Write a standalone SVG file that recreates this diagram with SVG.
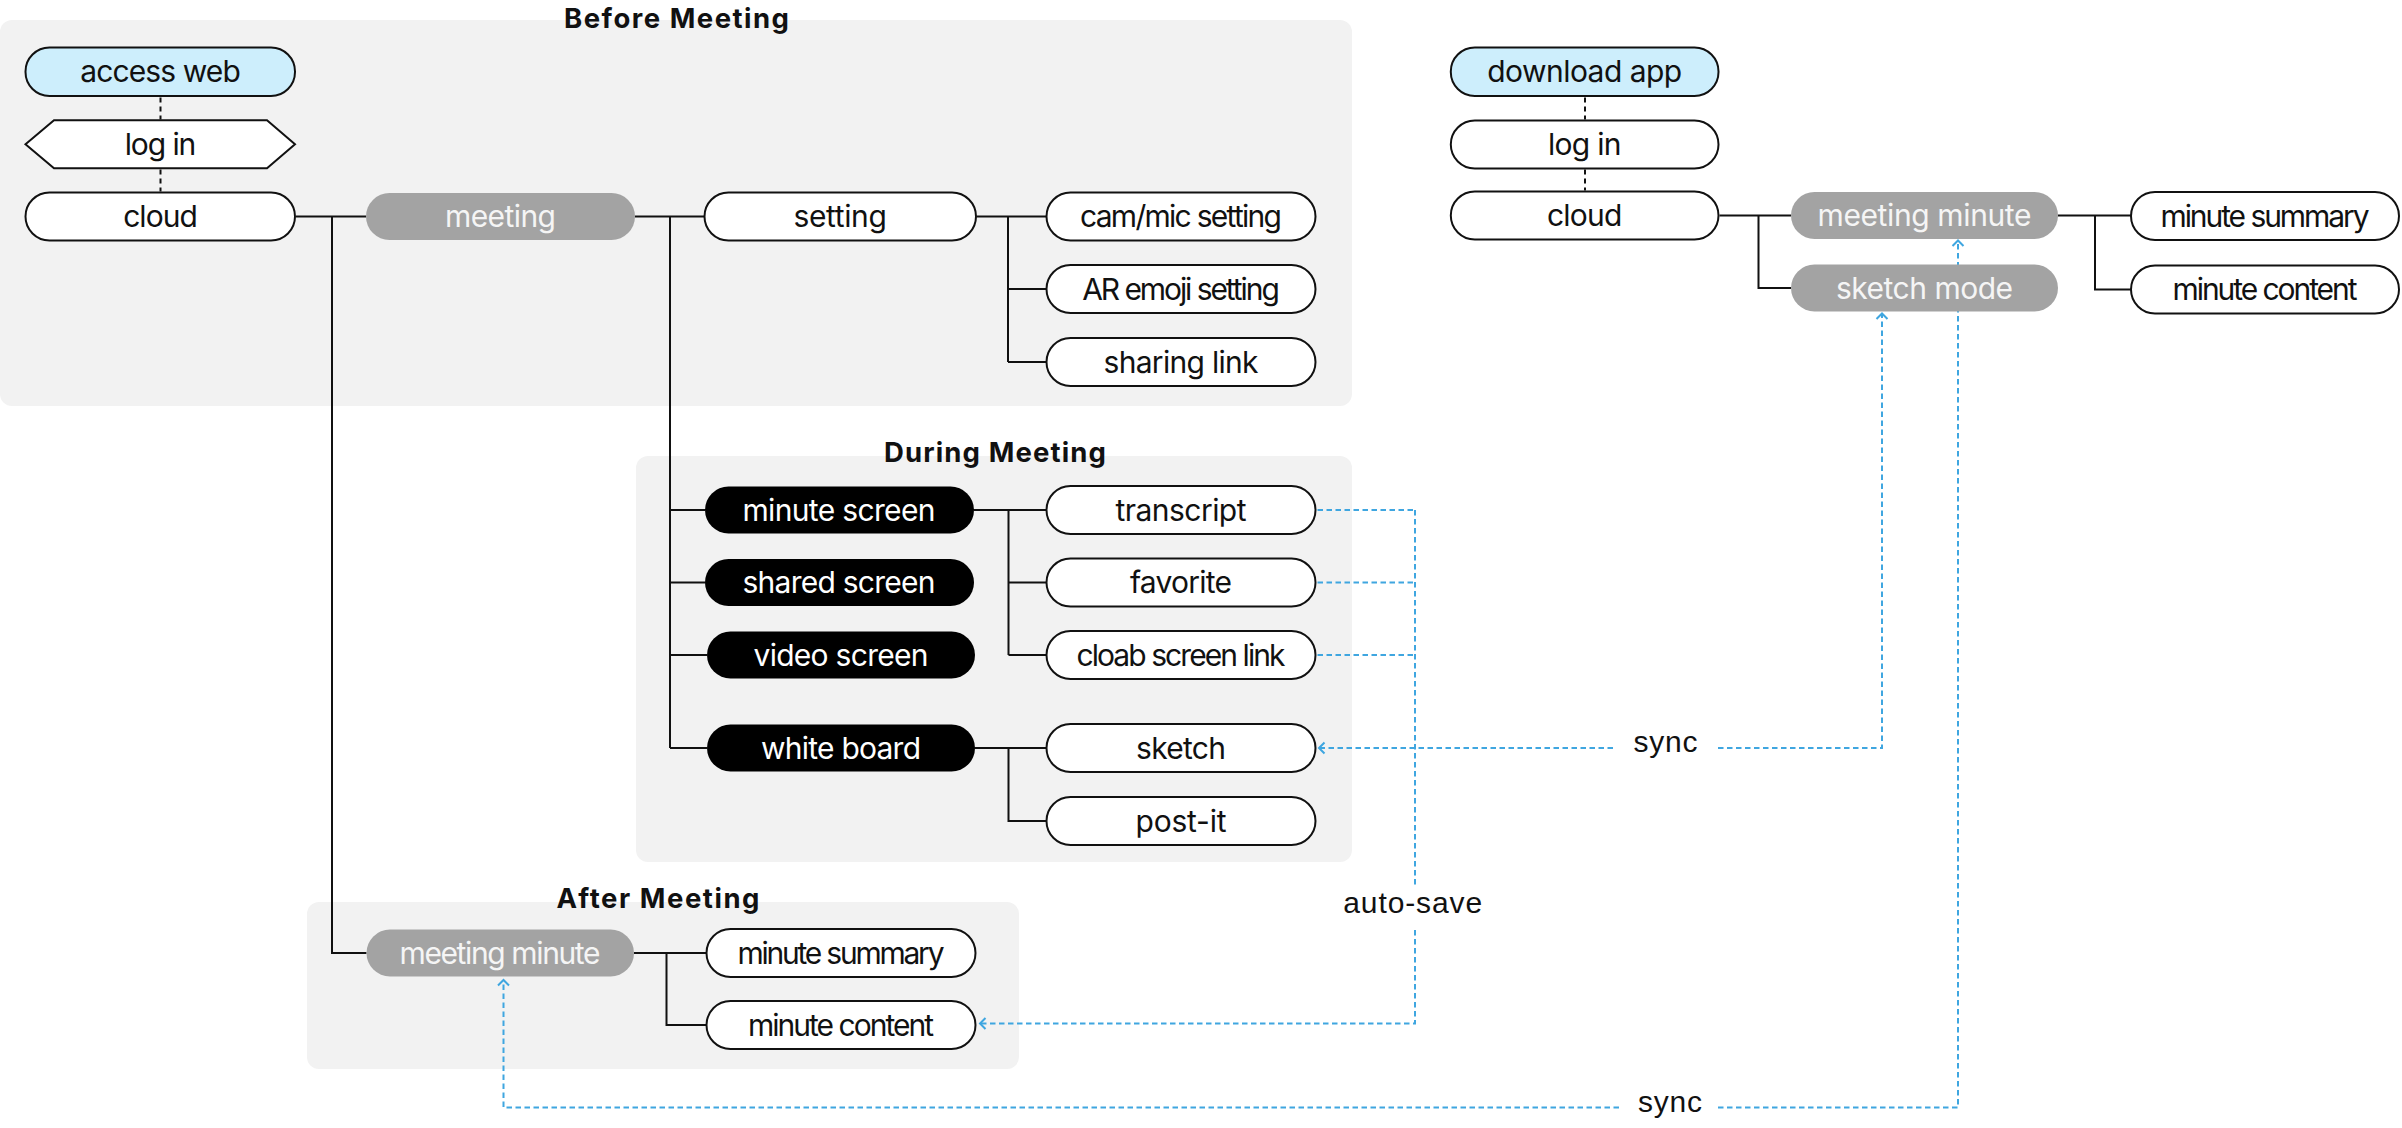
<svg xmlns="http://www.w3.org/2000/svg" width="2402" height="1128" viewBox="0 0 2402 1128">
<style>
.panel{fill:#f2f2f2}
.title{font-family:Inter,"Liberation Sans",sans-serif;font-weight:700;font-size:27.5px;fill:#111;text-anchor:middle}
.nw{fill:#fff;stroke:#111;stroke-width:2}
.nb{fill:#cdeefc;stroke:#111;stroke-width:2}
.ng{fill:#a3a3a3}
.nk{fill:#000}
.t{font-family:Inter,"Liberation Sans",sans-serif;font-size:30px;text-anchor:middle}
.td{fill:#111}
.tl{fill:#f5f5f5}
.tk{fill:#fff}
.ln{fill:none;stroke:#111;stroke-width:2}
.dk{fill:none;stroke:#111;stroke-width:2;stroke-dasharray:5 4}
.bl{fill:none;stroke:#3fa6e0;stroke-width:2;stroke-dasharray:5.5 3.5}
.lab{font-family:"Liberation Sans",Arial,sans-serif;font-size:30px;fill:#111;text-anchor:middle}
</style>
<defs>
<marker id="chev" markerUnits="userSpaceOnUse" viewBox="-8 -7 10 14" refX="0" refY="0" markerWidth="10" markerHeight="14" orient="auto" overflow="visible">
<path d="M-5.5,-5.5 L0,0 L-5.5,5.5" fill="none" stroke="#3fa6e0" stroke-width="2"/>
</marker>
</defs>

<g id="panels">
<rect class="panel" x="0" y="20" width="1352" height="386" rx="12"/>
<rect class="panel" x="636" y="456" width="716" height="406" rx="12"/>
<rect class="panel" x="307" y="902" width="712" height="167" rx="12"/>
<text class="title" x="676.5" y="27.5" textLength="225" lengthAdjust="spacing">Before Meeting</text>
<text class="title" x="995" y="461.5" textLength="222" lengthAdjust="spacing">During Meeting</text>
<text class="title" x="658" y="907.5" textLength="203" lengthAdjust="spacing">After Meeting</text>
</g>

<g id="connectors">
<path class="dk" d="M160.5 97.5V119.5M160.5 169.5V191.5"/>
<path class="dk" d="M1585 97.5V119.5M1585 169.5V190.5"/>
<path class="ln" d="M296 216.5H366M332 216.5V953H366.5"/>
<path class="ln" d="M635 216.5H704.5M670 216.5V748M670 510H705M670 582.5H705M670 655H707M670 748H707"/>
<path class="ln" d="M976.5 216.5H1046.5M1008 216.5V362M1008 289H1046.5M1008 362H1046.5"/>
<path class="ln" d="M974 510H1046.5M1008.5 510V655M1008.5 582.5H1046.5M1008.5 655H1046.5"/>
<path class="ln" d="M974.5 748H1046.5M1008.5 748V821H1046.5"/>
<path class="ln" d="M634 953H706.5M666.5 953V1025H706.5"/>
<path class="ln" d="M1719.5 215.5H1791M1758.5 215.5V288H1791"/>
<path class="ln" d="M2058 215.5H2131M2095 215.5V289.5H2131"/>
<path class="bl" d="M1317.5 510H1415M1317.5 582.5H1415M1317.5 655H1415M1415 510V885"/>
<path class="bl" d="M1415 930V1023.5H980" marker-end="url(#chev)"/>
<path class="bl" d="M1718 748H1882V313.5" marker-end="url(#chev)"/>
<path class="bl" d="M1613 748H1319" marker-end="url(#chev)"/>
<path class="bl" d="M1718 1107.5H1958V240.5" marker-end="url(#chev)"/>
<path class="bl" d="M1619 1107.5H503.5V980" marker-end="url(#chev)"/>
<text class="lab" x="1665.5" y="752" textLength="64" lengthAdjust="spacing">sync</text>
<text class="lab" x="1670" y="1111.5" textLength="64" lengthAdjust="spacing">sync</text>
<text class="lab" x="1412.7" y="913" textLength="139" lengthAdjust="spacing">auto-save</text>
</g>

<g id="access-web"><rect class="nb" x="25.5" y="47.5" width="269.5" height="48.5" rx="24"/><text class="t td" x="160.5" y="82.2" textLength="160.7" lengthAdjust="spacing">access web</text></g>
<g id="log-in-web"><polygon class="nw" points="25.5,144.3 54,120.3 267,120.3 295,144.3 267,168.3 54,168.3"/><text class="t td" x="160.5" y="154.8" textLength="71.7" lengthAdjust="spacing">log in</text></g>
<g id="cloud-web"><rect class="nw" x="25.5" y="192.5" width="269.5" height="48" rx="24"/><text class="t td" x="160.5" y="227" textLength="74.7" lengthAdjust="spacing">cloud</text></g>
<g id="meeting"><rect class="ng" x="366" y="193" width="269" height="47" rx="23.5"/><text class="t tl" x="500.5" y="227" textLength="111" lengthAdjust="spacing">meeting</text></g>
<g id="setting"><rect class="nw" x="704.5" y="192.5" width="271.5" height="48" rx="24"/><text class="t td" x="840.2" y="227" textLength="93.3" lengthAdjust="spacing">setting</text></g>
<g id="cam-mic-setting"><rect class="nw" x="1046.5" y="192.5" width="269" height="48" rx="24"/><text class="t td" x="1181" y="227" textLength="202" lengthAdjust="spacing">cam/mic setting</text></g>
<g id="ar-emoji-setting"><rect class="nw" x="1046.5" y="265" width="269" height="48" rx="24"/><text class="t td" x="1181" y="299.5" textLength="197.6" lengthAdjust="spacing">AR emoji setting</text></g>
<g id="sharing-link"><rect class="nw" x="1046.5" y="338" width="269" height="48" rx="24"/><text class="t td" x="1181" y="372.5" textLength="155" lengthAdjust="spacing">sharing link</text></g>

<g id="minute-screen"><rect class="nk" x="705" y="486.5" width="269" height="47" rx="23.5"/><text class="t tk" x="839" y="520.5" textLength="193" lengthAdjust="spacing">minute screen</text></g>
<g id="shared-screen"><rect class="nk" x="705" y="559" width="269" height="47" rx="23.5"/><text class="t tk" x="839" y="593" textLength="193" lengthAdjust="spacing">shared screen</text></g>
<g id="video-screen"><rect class="nk" x="707" y="631.5" width="268" height="47" rx="23.5"/><text class="t tk" x="841" y="665.5" textLength="175" lengthAdjust="spacing">video screen</text></g>
<g id="white-board"><rect class="nk" x="707" y="724.5" width="268" height="47" rx="23.5"/><text class="t tk" x="841" y="758.5" textLength="160" lengthAdjust="spacing">white board</text></g>
<g id="transcript"><rect class="nw" x="1046.5" y="486" width="269" height="48" rx="24"/><text class="t td" x="1181" y="520.5" textLength="131" lengthAdjust="spacing">transcript</text></g>
<g id="favorite"><rect class="nw" x="1046.5" y="558.5" width="269" height="48" rx="24"/><text class="t td" x="1181" y="593" textLength="102" lengthAdjust="spacing">favorite</text></g>
<g id="cloab-screen-link"><rect class="nw" x="1046.5" y="631" width="269" height="48" rx="24"/><text class="t td" x="1181" y="665.5" textLength="209" lengthAdjust="spacing">cloab screen link</text></g>
<g id="sketch"><rect class="nw" x="1046.5" y="724" width="269" height="48" rx="24"/><text class="t td" x="1181" y="758.5" textLength="90" lengthAdjust="spacing">sketch</text></g>
<g id="post-it"><rect class="nw" x="1046.5" y="797" width="269" height="48" rx="24"/><text class="t td" x="1181" y="831.5" textLength="91" lengthAdjust="spacing">post-it</text></g>

<g id="meeting-minute-after"><rect class="ng" x="366.5" y="929.5" width="267.5" height="47" rx="23.5"/><text class="t tl" x="500" y="963.5" textLength="201" lengthAdjust="spacing">meeting minute</text></g>
<g id="minute-summary-after"><rect class="nw" x="706.5" y="929" width="269" height="48" rx="24"/><text class="t td" x="841" y="963.5" textLength="207" lengthAdjust="spacing">minute summary</text></g>
<g id="minute-content-after"><rect class="nw" x="706.5" y="1001" width="269" height="48" rx="24"/><text class="t td" x="841" y="1035.5" textLength="186" lengthAdjust="spacing">minute content</text></g>

<g id="download-app"><rect class="nb" x="1450.8" y="47.5" width="267.7" height="48.5" rx="24"/><text class="t td" x="1584.7" y="82.2" textLength="195" lengthAdjust="spacing">download app</text></g>
<g id="log-in-app"><rect class="nw" x="1450.8" y="120.5" width="267.7" height="48" rx="24"/><text class="t td" x="1584.7" y="155" textLength="73.5" lengthAdjust="spacing">log in</text></g>
<g id="cloud-app"><rect class="nw" x="1450.8" y="191.5" width="267.7" height="48" rx="24"/><text class="t td" x="1584.7" y="226" textLength="75.4" lengthAdjust="spacing">cloud</text></g>
<g id="meeting-minute-app"><rect class="ng" x="1791" y="192" width="267" height="47" rx="23.5"/><text class="t tl" x="1924.5" y="226" textLength="214" lengthAdjust="spacing">meeting minute</text></g>
<g id="sketch-mode"><rect class="ng" x="1791" y="264.5" width="267" height="47" rx="23.5"/><text class="t tl" x="1924.5" y="298.5" textLength="177" lengthAdjust="spacing">sketch mode</text></g>
<g id="minute-summary-app"><rect class="nw" x="2131" y="192" width="268" height="48" rx="24"/><text class="t td" x="2265" y="226.5" textLength="209" lengthAdjust="spacing">minute summary</text></g>
<g id="minute-content-app"><rect class="nw" x="2131" y="265.5" width="268" height="48" rx="24"/><text class="t td" x="2265" y="300" textLength="185" lengthAdjust="spacing">minute content</text></g>
</svg>
